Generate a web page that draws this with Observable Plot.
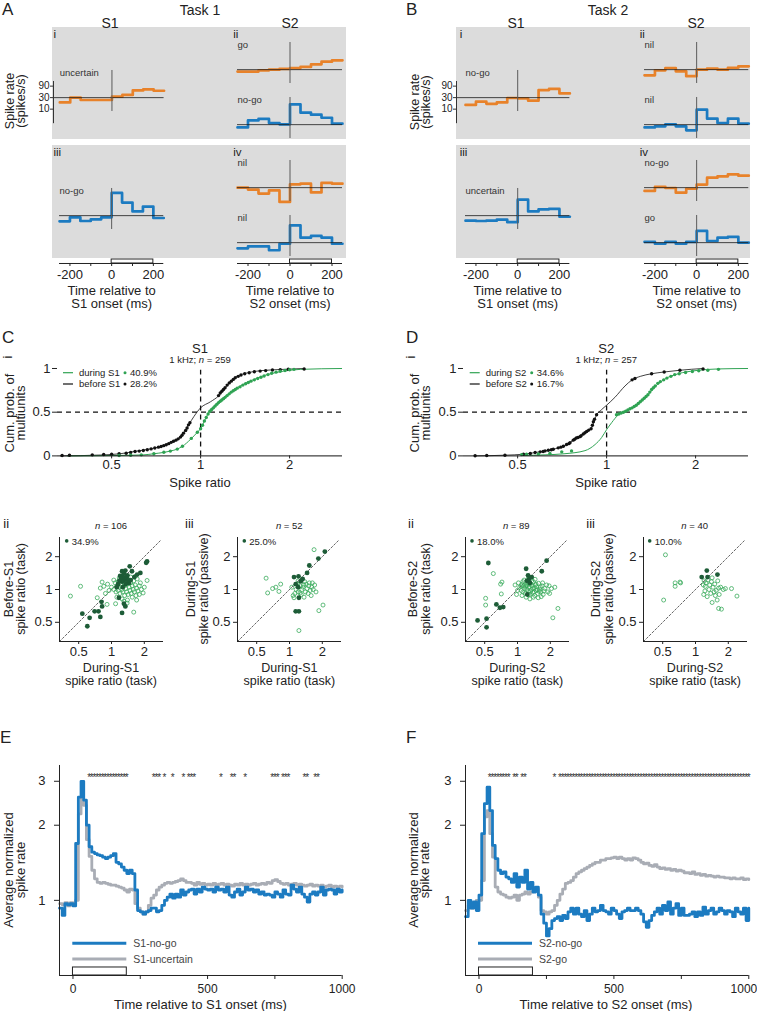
<!DOCTYPE html>
<html><head><meta charset="utf-8">
<script src="https://cdn.jsdelivr.net/npm/d3@7"></script>
<script src="https://cdn.jsdelivr.net/npm/@observablehq/plot@0.6"></script>
<style>
body{margin:0;background:#fff;}
#root{position:relative;width:757px;height:1011px;overflow:hidden;background:#fff;}
</style></head><body><div id="root"></div><script>
// ---------------- DATA ----------------
// Panels A/B: spike-rate step traces, 50 ms bins (spikes/s)
const binEdges = [-250,-200,-150,-100,-50,0,50,100,150,200,250];
const baselineRate = 30;
const rateTicks = [10,30,90];
const traceTicks = [-200,-100,0,100,200];
const stimulusWindow = [[0,200]];
const a_i_uncertain   = [19, 30, 24, 24, 24, 33, 39, 60, 66, 58];
const a_ii_go         = [25, 25, 28, 30, 32, 35, 39, 50, 64, 73];
const a_ii_nogo       = [23, 45, 52, 35, 31, 209, 94, 78, 58, 33];
const a_iii_nogo      = [17.5, 25.5, 18, 21, 25.5, 262, 104, 45, 71, 24];
const a_iv_nil_top    = [30, 25, 17, 23, 7.7, 41, 44, 19, 47, 44];
const a_iv_nil_bottom = [17.5, 21, 21, 14.5, 27, 156, 48, 57, 48, 27];
const b_i_nogo        = [15, 20.5, 16.6, 19, 29, 28, 22.5, 62, 69, 45];
const b_ii_nil_top    = [17.5, 28, 35, 25.5, 16, 30, 33, 30, 36, 41];
const b_ii_nil_bottom = [23, 25.5, 31, 25.5, 17.5, 125, 53, 35, 53, 33];
const b_iii_uncertain = [18.6, 18, 18.6, 20.5, 16, 138, 45, 55, 57, 27];
const b_iv_nogo       = [22, 32, 29, 18.6, 27, 40, 78, 88, 107, 94];
const b_iv_go         = [32, 27, 32, 27, 32, 92, 35, 48, 52, 30];

// Panels C/D i: cumulative distributions [spike ratio, cum. prob.]
const cDuringLine = [[0.354,0],[0.523,0.005],[0.643,0.012],[0.695,0.025],[0.751,0.04],[0.79,0.055],[0.834,0.078],[0.868,0.11],[0.925,0.19],[0.975,0.27],[1.0,0.31],[1.03,0.40],[1.067,0.50],[1.10,0.56],[1.15,0.62],[1.23,0.70],[1.33,0.78],[1.48,0.86],[1.68,0.93],[1.91,0.97],[2.18,0.99],[3.0,1.0]];
const cBeforeLine = [[0.336,0],[0.459,0.01],[0.536,0.025],[0.595,0.05],[0.677,0.08],[0.751,0.12],[0.812,0.17],[0.867,0.24],[0.913,0.36],[0.949,0.45],[1.0,0.55],[1.081,0.62],[1.153,0.69],[1.199,0.76],[1.263,0.85],[1.331,0.91],[1.439,0.95],[1.596,0.975],[1.914,0.99],[2.237,1.0]];
const cBeforeDots = [[0.34,0.004],[0.36,0.008],[0.43,0.012],[0.47,0.016],[0.50,0.02],[0.53,0.025],[0.56,0.03],[0.58,0.04],[0.60,0.05],[0.62,0.055],[0.64,0.062],[0.66,0.07],[0.68,0.08],[0.70,0.09],[0.72,0.10],[0.735,0.108],[0.75,0.117],[0.765,0.128],[0.78,0.14],[0.795,0.155],[0.81,0.168],[0.825,0.18],[0.84,0.195],[0.855,0.215],[0.865,0.235],[0.875,0.26],[0.89,0.29],[0.90,0.32],[0.91,0.355],[0.92,0.38],[1.15,0.69],[1.165,0.72],[1.18,0.74],[1.195,0.76],[1.21,0.78],[1.23,0.81],[1.25,0.835],[1.27,0.855],[1.29,0.875],[1.31,0.895],[1.34,0.91],[1.37,0.925],[1.41,0.94],[1.46,0.952],[1.52,0.962],[1.59,0.97],[1.66,0.976],[1.75,0.982],[1.86,0.987],[1.98,0.991],[2.24,0.995]];
const cDuringDots = [[0.53,0.005],[0.58,0.008],[0.63,0.012],[0.695,0.025],[0.751,0.042],[0.79,0.055],[0.834,0.078],[0.868,0.11],[0.93,0.20],[0.975,0.27],[1.0,0.31],[1.015,0.35],[1.03,0.40],[1.045,0.44],[1.06,0.48],[1.075,0.51],[1.09,0.53],[1.105,0.55],[1.12,0.57],[1.135,0.59],[1.15,0.61],[1.165,0.625],[1.18,0.64],[1.195,0.655],[1.21,0.67],[1.23,0.69],[1.25,0.71],[1.27,0.73],[1.29,0.745],[1.31,0.76],[1.33,0.775],[1.36,0.79],[1.39,0.81],[1.42,0.825],[1.45,0.84],[1.48,0.855],[1.52,0.87],[1.56,0.885],[1.60,0.90],[1.64,0.915],[1.69,0.93],[1.74,0.945],[1.80,0.958],[1.86,0.968],[1.93,0.977],[2.0,0.985],[2.07,0.99]];
const dDuringLine = [[0.516,0.005],[0.619,0.012],[0.723,0.025],[0.845,0.06],[0.914,0.13],[0.962,0.21],[1.0,0.30],[1.04,0.38],[1.095,0.47],[1.168,0.52],[1.247,0.57],[1.348,0.66],[1.458,0.79],[1.576,0.88],[1.747,0.94],[1.991,0.975],[2.387,0.995],[3.0,1.0]];
const dBeforeLine = [[0.359,0],[0.453,0.008],[0.523,0.019],[0.573,0.038],[0.619,0.057],[0.66,0.076],[0.714,0.11],[0.752,0.15],[0.79,0.206],[0.834,0.25],[0.886,0.31],[0.925,0.47],[0.962,0.53],[1.0,0.58],[1.067,0.67],[1.154,0.80],[1.22,0.87],[1.30,0.91],[1.42,0.94],[1.566,0.96],[1.77,0.98],[2.12,1.0]];
const dBeforeDots = [[0.359,0.002],[0.393,0.004],[0.453,0.008],[0.523,0.019],[0.552,0.027],[0.573,0.038],[0.596,0.046],[0.61,0.05],[0.619,0.057],[0.635,0.065],[0.65,0.07],[0.66,0.076],[0.686,0.092],[0.70,0.10],[0.714,0.11],[0.732,0.13],[0.745,0.14],[0.752,0.15],[0.771,0.18],[0.78,0.19],[0.79,0.206],[0.80,0.21],[0.813,0.22],[0.82,0.23],[0.834,0.25],[0.845,0.265],[0.856,0.28],[0.87,0.295],[0.886,0.31],[0.895,0.35],[0.902,0.39],[0.91,0.42],[0.925,0.47],[1.22,0.87],[1.247,0.885],[1.42,0.94],[1.566,0.96],[1.77,0.98],[2.12,0.995]];
const dDuringDots = [[0.516,0.015],[0.536,0.019],[0.588,0.023],[0.643,0.027],[0.705,0.046],[0.761,0.057],[1.08,0.47],[1.10,0.48],[1.12,0.49],[1.14,0.50],[1.16,0.51],[1.18,0.525],[1.20,0.54],[1.22,0.55],[1.24,0.565],[1.26,0.58],[1.28,0.60],[1.30,0.62],[1.32,0.64],[1.34,0.66],[1.36,0.68],[1.38,0.70],[1.40,0.73],[1.42,0.76],[1.44,0.78],[1.46,0.80],[1.49,0.83],[1.52,0.85],[1.56,0.87],[1.60,0.89],[1.65,0.91],[1.70,0.93],[1.76,0.94],[1.85,0.955],[1.95,0.965],[2.05,0.975],[2.2,0.98],[2.39,0.99]];

// Panels C/D ii, iii: scatter [x ratio, y ratio]
const cii_sig = [[2.12,1.81],[2.08,1.76],[1.47,1.63],[1.34,1.49],[1.25,1.47],[1.54,1.47],[1.72,1.37],[1.84,1.42],[1.20,1.33],[1.28,1.30],[1.22,1.25],[1.31,1.22],[1.25,1.18],[1.38,1.28],[1.45,1.15],[1.15,1.12],[1.62,1.30],[0.54,0.60],[0.60,0.46],[0.63,0.55],[0.70,0.63],[0.76,0.63],[0.79,0.56],[0.81,0.77],[0.82,0.70],[1.25,0.61],[1.30,0.74],[1.34,0.70],[1.17,0.84],[1.30,1.40],[1.18,1.20],[1.40,1.35],[1.35,1.12],[1.27,1.05],[1.50,1.22],[1.12,1.05],[1.42,1.20]];
const cii_ns = [[1.05,1.0],[1.10,0.95],[1.12,1.08],[1.15,0.98],[1.18,1.05],[1.20,0.92],[1.22,1.10],[1.25,1.00],[1.27,0.95],[1.30,1.08],[1.32,0.88],[1.35,1.02],[1.38,0.95],[1.40,1.12],[1.42,0.90],[1.45,1.05],[1.48,0.98],[1.50,1.15],[1.52,0.92],[1.55,1.08],[1.58,1.00],[1.62,0.95],[1.65,1.10],[1.68,0.88],[1.70,1.03],[1.75,0.97],[1.80,1.08],[1.88,1.00],[1.95,0.93],[1.15,1.18],[1.28,1.20],[1.36,1.25],[1.45,1.22],[1.60,1.20],[1.72,1.25],[1.08,1.15],[1.00,1.05],[0.95,0.98],[1.12,0.85],[1.25,0.82],[1.40,0.80],[1.55,0.85],[1.70,0.80],[1.30,0.78],[0.88,0.92],[1.80,0.90],[2.0,1.05],[1.18,1.28],[1.05,1.22],[0.92,1.12],[1.50,1.30],[1.65,1.32],[0.42,0.87],[0.52,1.07],[0.74,0.84],[0.91,0.73],[1.09,0.74],[1.39,0.75],[1.60,0.62],[0.82,1.17],[0.85,1.07],[2.12,1.21],[1.84,1.15],[0.79,1.03]];
const ciii_sig = [[2.11,2.23],[1.84,1.92],[1.52,1.66],[1.45,1.42],[1.21,1.32],[1.27,1.19],[1.14,1.12],[1.32,1.25],[1.20,1.05],[1.14,0.63],[1.22,0.63],[1.22,0.84],[1.10,1.30]];
const ciii_ns = [[1.68,2.32],[0.61,1.27],[0.83,1.12],[0.75,1.05],[0.63,0.93],[0.70,1.02],[0.80,0.96],[1.10,0.84],[1.22,0.42],[1.86,0.64],[2.03,0.72],[1.15,1.00],[1.20,0.95],[1.25,1.08],[1.30,1.00],[1.35,1.10],[1.40,0.95],[1.45,1.02],[1.50,1.08],[1.55,0.98],[1.60,1.05],[1.28,0.90],[1.38,1.18],[1.18,1.12],[1.48,0.92],[1.65,1.00],[1.33,1.05],[1.42,1.12],[1.12,0.92],[1.25,0.93],[1.58,0.88],[1.70,1.10],[1.05,1.05],[1.52,1.15],[1.75,0.95],[1.36,0.85],[1.20,1.20],[1.62,1.15],[1.08,0.88]];
const dii_sig = [[0.54,1.75],[1.20,1.55],[1.67,1.47],[1.85,1.84],[1.23,0.90],[0.43,0.52],[0.52,0.54],[0.52,0.45],[0.64,0.73],[0.69,0.68],[0.74,0.69],[1.25,1.35],[1.28,1.25],[1.22,1.20],[1.30,1.15],[1.35,1.30]];
const dii_ns = [[0.60,1.40],[0.72,1.17],[0.51,0.83],[0.51,0.72],[0.71,0.91],[0.70,1.12],[1.97,0.92],[2.35,0.67],[2.11,0.55],[1.05,1.05],[1.08,0.98],[1.10,1.12],[1.12,0.95],[1.14,1.08],[1.16,1.02],[1.18,0.92],[1.20,1.10],[1.22,1.00],[1.24,1.15],[1.26,0.96],[1.28,1.05],[1.30,0.90],[1.32,1.12],[1.34,1.00],[1.36,1.08],[1.38,0.94],[1.40,1.18],[1.42,1.03],[1.44,0.88],[1.46,1.10],[1.48,0.98],[1.50,1.06],[1.53,0.92],[1.56,1.14],[1.60,1.00],[1.64,0.95],[1.68,1.08],[1.72,0.90],[1.78,1.02],[1.85,1.10],[1.95,1.08],[2.05,1.02],[1.15,1.22],[1.25,1.25],[1.35,1.20],[1.45,1.24],[1.10,0.88],[1.20,0.85],[1.30,0.82],[1.40,0.85],[1.55,0.84],[1.65,0.86],[1.00,0.98],[0.95,1.10],[1.02,1.15],[1.12,1.18],[1.22,1.08],[1.32,0.97],[1.42,0.95],[1.52,1.00],[1.62,1.05],[1.75,0.97],[1.90,0.95],[1.18,1.05],[1.28,1.12],[1.38,1.02],[1.48,1.12],[1.58,0.96],[1.08,1.08],[2.2,1.05],[1.70,1.15],[0.98,0.90],[1.26,0.90]];
const diii_sig = [[1.27,1.49],[1.14,1.30],[1.29,1.30],[1.59,1.37]];
const diii_ns = [[0.53,2.08],[0.65,1.15],[0.72,1.17],[0.51,0.80],[0.65,1.07],[0.73,1.15],[1.19,0.90],[1.28,0.86],[1.42,0.76],[1.63,0.67],[1.73,0.66],[2.40,0.87],[1.88,1.02],[2.14,1.02],[1.63,1.03],[1.23,1.07],[1.20,1.20],[1.25,1.15],[1.30,1.22],[1.35,1.10],[1.40,1.18],[1.45,1.05],[1.50,1.12],[1.55,0.98],[1.33,1.00],[1.38,0.92],[1.48,0.95],[1.60,1.20],[1.70,1.05],[1.52,0.88],[1.42,1.28],[1.22,0.97],[1.58,0.80],[1.80,1.00],[1.18,1.10],[1.65,0.90]];
const scatterDomain = [1/3, 3];
const identityLine = [0.335, 2.8];
const scatterTicks = [0.5, 1, 2];

// Panels E/F: average normalized spike rate, 10 ms bins from -50 to 1000 ms
const timeBins = d3.range(-50, 1001, 10);
const e_nogo = [0.93,0.87,0.97,0.96,0.97,0.95,1.69,2.59,3.0,2.52, 2.0,1.64,1.56,1.54,1.52,1.51,1.49,1.47,1.49,1.51, 1.54,1.42,1.40,1.36,1.32,1.28,1.32,1.28,1.10,0.91, 0.90,0.88,0.90,0.91,0.93,0.93,0.90,0.91,0.955,1.0, 1.03,1.06,1.02,1.06,1.03,1.10,1.05,1.08,1.10,1.11, 1.06,1.11,1.08,1.13,1.11,1.10,1.11,1.08,1.13,1.10, 1.11,1.08,1.13,1.05,1.03,1.08,1.11,1.05,1.08,1.13, 1.10,1.11,1.08,1.10,1.06,1.08,1.05,1.06,1.05,1.03, 1.08,1.06,1.03,1.10,1.06,1.05,1.15,1.11,1.08,1.13, 1.06,1.03,0.985,1.06,1.08,1.05,1.08,1.13,1.05,1.10, 1.11,1.10,1.06,1.11,1.08,1.10];
const e_uncertain = [0.97,0.96,0.98,0.95,0.98,0.96,1.00,2.22,2.55,2.40, 1.75,1.50,1.32,1.22,1.18,1.17,1.18,1.17,1.16,1.15, 1.15,1.14,1.13,1.12,1.10,1.08,1.11,1.10,0.97,0.93, 0.90,0.88,0.90,0.955,1.02,1.05,1.10,1.13,1.15,1.17, 1.18,1.17,1.18,1.19,1.20,1.22,1.20,1.18,1.18,1.17, 1.15,1.18,1.16,1.17,1.15,1.16,1.15,1.17,1.15,1.16, 1.17,1.15,1.16,1.15,1.14,1.16,1.15,1.17,1.15,1.16, 1.15,1.16,1.17,1.15,1.16,1.17,1.16,1.18,1.17,1.20, 1.21,1.19,1.17,1.16,1.17,1.15,1.16,1.17,1.15,1.16, 1.15,1.14,1.15,1.16,1.14,1.15,1.14,1.15,1.13,1.14, 1.15,1.13,1.14,1.13,1.14,1.13];
const f_nogo = [0.86,1.0,0.93,0.985,0.91,1.05,1.85,2.44,2.84,2.29, 1.66,1.47,1.32,1.28,1.30,1.24,1.22,1.18,1.28,1.13, 1.24,1.18,1.32,1.11,1.18,1.08,1.13,1.05,0.88,0.81, 0.72,0.77,0.83,0.845,0.86,0.83,0.87,0.845,0.90,0.93, 0.88,0.93,0.88,0.86,0.91,0.83,0.88,0.93,0.90,0.91, 0.955,0.91,0.90,0.88,0.93,0.91,0.88,0.845,0.90,0.91, 0.93,0.91,0.91,0.93,0.91,0.88,0.82,0.78,0.83,0.87, 0.90,0.93,0.88,0.955,0.91,0.985,0.88,0.93,0.97,0.87, 0.93,0.87,0.87,0.88,0.90,0.86,0.90,0.87,0.94,0.88, 0.91,0.93,0.88,0.90,0.93,0.91,0.88,0.91,0.90,0.86, 0.93,0.90,0.88,0.93,0.83,0.93];
const f_go = [0.91,0.955,0.93,0.97,1.0,1.0,1.20,2.16,2.29,1.85, 1.49,1.13,1.08,1.06,1.05,1.03,1.02,1.03,1.05,1.0, 1.05,1.06,1.08,1.06,1.08,1.10,1.11,1.03,0.91,0.90, 0.88,0.90,0.91,0.955,1.0,1.06,1.11,1.17,1.18,1.20, 1.24,1.28,1.30,1.32,1.34,1.36,1.38,1.40,1.42,1.42, 1.45,1.45,1.47,1.47,1.48,1.49,1.47,1.49,1.47,1.45, 1.47,1.45,1.48,1.47,1.45,1.42,1.40,1.41,1.38,1.37, 1.39,1.36,1.34,1.35,1.33,1.34,1.32,1.33,1.31,1.32, 1.31,1.29,1.29,1.28,1.30,1.27,1.28,1.26,1.27,1.25, 1.26,1.25,1.24,1.25,1.24,1.24,1.23,1.23,1.22,1.23, 1.22,1.22,1.23,1.21,1.22,1.21];
const e_stars = [60,70,80,90,100,110,120,130,140,150,160,170,180,190,200,300,310,320,340,370,410,430,440,450,550,590,600,640,740,750,760,780,790,800,860,870,900,910];
const f_stars = [40,50,60,70,80,90,100,110,130,140,160,170,280].concat(d3.range(300,1001,10));
const normTicks = [1,2,3];
const timeTicks = [0,250,500,750,1000];

// ---------------- STYLE / LAYOUT ----------------
const FONT = '"Liberation Sans", Arial, Helvetica, sans-serif';
const ORANGE = "#e8822a", BLUE = "#1c7bc1", GRAYLINE = "#a9adb5";
const GREEN = "#2fa353", DKGREEN = "#1d5c37", LTGREEN = "#3aab5c";
const xDomainTrace = [-250, 250];
const rateDomain = [8, 400];
const rateAxisSpan = [2.5, 140];
const root = document.getElementById("root");

function put(node, left, top) {
  node.style.position = "absolute";
  node.style.left = left + "px";
  node.style.top = top + "px";
  root.appendChild(node);
  return node;
}
function framed(frame, margins, opts) {
  const [x0, x1, y0, y1] = frame;
  const m = Object.assign({top: 0, right: 0, bottom: 0, left: 0}, margins);
  const svg = Plot.plot(Object.assign({
    width: (x1 - x0) + m.left + m.right,
    height: (y1 - y0) + m.top + m.bottom,
    marginTop: m.top, marginRight: m.right, marginBottom: m.bottom, marginLeft: m.left,
    style: {background: "transparent", fontFamily: FONT, fontSize: "13px", color: "#222", overflow: "visible"}
  }, opts));
  put(svg, x0 - m.left, y0 - m.top);
  return svg;
}

// gray panels
[[52, 27, 294, 112], [52, 145, 294, 113], [455.7, 27, 294, 112], [455.7, 145, 294, 113]].forEach(([x, y, w, h]) => {
  const d = document.createElement("div");
  d.style.width = w + "px"; d.style.height = h + "px"; d.style.background = "#dcdcdc";
  put(d, x, y);
});

// ---------- Panels A & B traces ----------
const cols = {AS1: [59, 163.3, 52.7], AS2: [237.3, 342.3], BS1: [465.3, 569.7, 456.3], BS2: [643.7, 748]};
const traceSpecs = [
  {rates: a_i_uncertain, color: ORANGE, label: "uncertain", col: "AS1", top: 70, axis: true},
  {rates: a_ii_go, color: ORANGE, label: "go", col: "AS2", top: 42},
  {rates: a_ii_nogo, color: BLUE, label: "no-go", col: "AS2", top: 97},
  {rates: a_iii_nogo, color: BLUE, label: "no-go", col: "AS1", top: 188},
  {rates: a_iv_nil_top, color: ORANGE, label: "nil", col: "AS2", top: 160},
  {rates: a_iv_nil_bottom, color: BLUE, label: "nil", col: "AS2", top: 215},
  {rates: b_i_nogo, color: ORANGE, label: "no-go", col: "BS1", top: 70, axis: true},
  {rates: b_ii_nil_top, color: ORANGE, label: "nil", col: "BS2", top: 42},
  {rates: b_ii_nil_bottom, color: BLUE, label: "nil", col: "BS2", top: 97},
  {rates: b_iii_uncertain, color: BLUE, label: "uncertain", col: "BS1", top: 188},
  {rates: b_iv_nogo, color: ORANGE, label: "no-go", col: "BS2", top: 160},
  {rates: b_iv_go, color: BLUE, label: "go", col: "BS2", top: 215}
];
traceSpecs.forEach(s => {
  const [x0, x1, ax] = cols[s.col];
  const inset = s.axis ? x0 - ax : 0;
  const frameW = x1 - (x0 - inset);
  const data = binEdges.map((t, i) => ({t, rate: s.rates[Math.min(i, s.rates.length - 1)]}));
  const marks = [
    Plot.line(data, {x: "t", y: "rate", curve: "step-after", stroke: s.color, strokeWidth: 2.7}),
    Plot.ruleY([baselineRate], {stroke: "#1a1a1a", strokeWidth: 0.8}),
    Plot.ruleX([0], {stroke: "#5a5a5a", strokeWidth: 1}),
    Plot.text([s.label], {text: d => d, frameAnchor: "top-left", dx: inset, dy: 5.5, lineAnchor: "bottom", textAnchor: "start", fontSize: 9.5, fill: "#333"})
  ];
  if (s.axis) {
    marks.push(
      Plot.ruleX([xDomainTrace[0]], {y1: rateAxisSpan[0], y2: rateAxisSpan[1], dx: -inset, stroke: "#333", strokeWidth: 1}),
      Plot.tickY(rateTicks, {y: d => d, insetRight: frameW - 3, dx: -3, stroke: "#333", strokeWidth: 1}),
      Plot.text(rateTicks, {y: d => d, text: d => String(d), frameAnchor: "left", dx: -4, textAnchor: "end", lineAnchor: "middle", fontSize: 10, fill: "#222"})
    );
  }
  framed([x0 - inset, x1, s.top, s.top + 41], {left: s.axis ? 30 : 2, right: 2, top: 2, bottom: s.axis ? 16 : 2}, {
    x: {domain: xDomainTrace, insetLeft: inset, axis: null},
    y: {type: "log", domain: rateDomain, axis: null},
    marks
  });
});
[["AS1", "Time relative to\nS1 onset (ms)"], ["AS2", "Time relative to\nS2 onset (ms)"],
 ["BS1", "Time relative to\nS1 onset (ms)"], ["BS2", "Time relative to\nS2 onset (ms)"]].forEach(([col, label]) => {
  const [x0, x1] = cols[col];
  framed([x0, x1, 255, 263], {left: 30, right: 30, top: 0, bottom: 55}, {
    x: {domain: xDomainTrace},
    y: {domain: [0, 1], axis: null},
    marks: [
      Plot.rect(stimulusWindow, {x1: d => d[0], x2: d => d[1], y1: 0, y2: 0.5, fill: "none", stroke: "#222", strokeWidth: 1}),
      Plot.ruleY([0], {stroke: "#222", strokeWidth: 1}),
      Plot.axisX({ticks: traceTicks, tickFormat: d => (d % 200 === 0 ? String(d) : ""), tickSize: 3, tickPadding: 3, fontSize: 13, label: null}),
      Plot.text([label], {text: d => d, frameAnchor: "bottom", dy: 22, lineAnchor: "top", fontSize: 13, fill: "#222"})
    ]
  });
});

// ---------- Panels C/D i: cumulative ----------
function cumPlot(frame, beforeLine, duringLine, beforeDots, duringDots) {
  framed(frame, {left: 57, right: 10, top: 5, bottom: 40}, {
    x: {type: "log", domain: [0.328, 3.02]},
    y: {domain: [0, 1]},
    marks: [
      Plot.ruleY([0.5], {stroke: "#111", strokeWidth: 1.3, strokeDasharray: "5,4"}),
      Plot.ruleX([1], {y1: 0, y2: 0.98, stroke: "#111", strokeWidth: 1.3, strokeDasharray: "5,4"}),
      Plot.line(beforeLine, {x: d => d[0], y: d => d[1], stroke: "#111", strokeWidth: 0.8, curve: "monotone-x"}),
      Plot.line(duringLine, {x: d => d[0], y: d => d[1], stroke: GREEN, strokeWidth: 1, curve: "monotone-x"}),
      Plot.dot(beforeDots, {x: d => d[0], y: d => d[1], r: 1.7, fill: "#111", stroke: "none"}),
      Plot.dot(duringDots, {x: d => d[0], y: d => d[1], r: 1.7, fill: GREEN, stroke: "none"}),
      Plot.ruleY([0], {stroke: "#111", strokeWidth: 1}),
      Plot.axisX({ticks: scatterTicks, tickFormat: d => String(d), tickSize: 3, tickPadding: 1, fontSize: 13, label: null}),
      Plot.axisY({ticks: [0, 0.5, 1], tickFormat: d => String(d), tickSize: 5, tickPadding: 2, fontSize: 13, label: null}),
      Plot.text(["Spike ratio"], {text: d => d, frameAnchor: "bottom", dy: 31, lineAnchor: "bottom", fontSize: 13, fill: "#222"})
    ]
  });
}
cumPlot([56.7, 341.7, 368.3, 455.7], cBeforeLine, cDuringLine, cBeforeDots, cDuringDots);
cumPlot([463, 748, 368.3, 455.7], dBeforeLine, dDuringLine, dBeforeDots, dDuringDots);

// ---------- scatter panels ----------
function scatter(frame, sig, ns) {
  framed(frame, {left: 30, right: 5, top: 5, bottom: 20}, {
    x: {type: "log", domain: scatterDomain},
    y: {type: "log", domain: scatterDomain},
    marks: [
      Plot.line(identityLine, {x: d => d, y: d => d, stroke: "#222", strokeWidth: 0.7, strokeDasharray: "2,2"}),
      Plot.dot(ns, {x: d => d[0], y: d => d[1], r: 2, stroke: LTGREEN, strokeWidth: 0.8, fill: "none"}),
      Plot.dot(sig, {x: d => d[0], y: d => d[1], r: 2.4, fill: DKGREEN, stroke: "none"}),
      Plot.ruleX([scatterDomain[0]], {stroke: "#222", strokeWidth: 1}),
      Plot.ruleY([scatterDomain[0]], {stroke: "#222", strokeWidth: 1}),
      Plot.axisX({ticks: scatterTicks, tickFormat: d => String(d), tickSize: 3, tickPadding: 2, fontSize: 13, label: null}),
      Plot.axisY({ticks: scatterTicks, tickFormat: d => String(d), tickSize: 4, tickPadding: 3, fontSize: 13, label: null})
    ]
  });
}
scatter([59, 163, 537, 641], cii_sig, cii_ns);
scatter([236.7, 340.7, 537, 641], ciii_sig, ciii_ns);
scatter([465.3, 569.3, 537, 641], dii_sig, dii_ns);
scatter([643, 747, 537, 641], diii_sig, diii_ns);

// ---------- Panels E/F ----------
function timecourse(frame, blueVals, grayVals, stars, endAnchorLast) {
  const blue = timeBins.map((t, i) => ({t, v: blueVals[i]}));
  const gray = timeBins.map((t, i) => ({t, v: grayVals[i]}));
  const lastTick = timeTicks[timeTicks.length - 1];
  const marks = [
    Plot.line(gray, {x: "t", y: "v", curve: "step-after", stroke: GRAYLINE, strokeWidth: 2.8}),
    Plot.line(blue, {x: "t", y: "v", curve: "step-after", stroke: BLUE, strokeWidth: 2.8}),
    Plot.text(stars, {x: d => d, text: () => "*", frameAnchor: "top", dy: 8, fontSize: 10, fill: "#333"}),
    Plot.rect(stimulusWindow, {x1: d => d[0], x2: d => d[1], insetTop: 202, fill: "none", stroke: "#222", strokeWidth: 1}),
    Plot.ruleX([-50], {stroke: "#222", strokeWidth: 1}),
    Plot.ruleY([0.5], {stroke: "#222", strokeWidth: 1}),
    Plot.axisX({ticks: timeTicks, tickFormat: d => (d % 500 === 0 && !(endAnchorLast && d === lastTick) ? String(d) : ""), tickSize: 4, tickPadding: 5, fontSize: 12, label: null}),
    Plot.axisY({ticks: normTicks, tickFormat: d => String(d), tickSize: 5, tickPadding: 9, fontSize: 13, label: null})
  ];
  if (endAnchorLast) marks.push(
    Plot.text([lastTick], {x: d => d, text: d => String(d), frameAnchor: "bottom", dy: 9, dx: 8.5, lineAnchor: "top", textAnchor: "end", fontSize: 12, fill: "#222"})
  );
  framed(frame, {left: 30, right: 15, top: 5, bottom: 25}, {
    x: {domain: [-50, 1000]},
    y: {type: "log", domain: [0.5, 3.47]},
    marks
  });
}
timecourse([59, 341.7, 765, 975], e_nogo, e_uncertain, e_stars, false);
timecourse([464.7, 748, 765, 975], f_nogo, f_go, f_stars, true);

// ---------- text overlay ----------
const ov = d3.create("svg").attr("width", 757).attr("height", 1011)
  .attr("font-family", FONT).style("position", "absolute").style("left", "0px").style("top", "0px");
function T(str, x, y, o = {}) {
  const t = ov.append("text").attr("font-size", o.size || 13).attr("text-anchor", o.anchor || "start").attr("fill", o.fill || "#222");
  if (o.rotate) t.attr("transform", `translate(${x},${y}) rotate(-90)`); else t.attr("x", x).attr("y", y);
  (Array.isArray(str) ? str : [str]).forEach(p => {
    if (typeof p === "string") t.append("tspan").text(p);
    else t.append("tspan").attr("font-style", "italic").text(p.i);
  });
}
// panel letters
[["A", 2, 15], ["B", 406, 15], ["C", 2, 343], ["D", 406, 343], ["E", 0, 743], ["F", 406, 743]].forEach(([s, x, y]) => T(s, x, y, {size: 17}));
T("Task 1", 200, 15, {size: 14, anchor: "middle"});
T("Task 2", 608, 15, {size: 14, anchor: "middle"});
[["S1", 110], ["S2", 290], ["S1", 516], ["S2", 696]].forEach(([s, x]) => T(s, x, 27.7, {size: 14, anchor: "middle"}));
[["i", 53.5, 37.5], ["ii", 233.3, 37.5], ["iii", 53.5, 155.5], ["iv", 233.3, 155.5],
 ["i", 459.7, 37.5], ["ii", 639.7, 37.5], ["iii", 459.7, 155.5], ["iv", 639.7, 155.5]].forEach(([s, x, y]) => T(s, x, y, {size: 11.5}));
T("Spike rate", 14, 101, {size: 12.5, anchor: "middle", rotate: true});
T("(spikes/s)", 24.5, 101, {size: 12.5, anchor: "middle", rotate: true});
T("Spike rate", 419, 102, {size: 12.5, anchor: "middle", rotate: true});
T("(spikes/s)", 429.5, 102, {size: 12.5, anchor: "middle", rotate: true});
// C / D i
T("i", 12, 357, {size: 13, anchor: "middle", rotate: true});
T("i", 415, 357, {size: 13, anchor: "middle", rotate: true});
T("S1", 200, 352.7, {size: 13, anchor: "middle"});
T("S2", 606.3, 352.7, {size: 13, anchor: "middle"});
T(["1 kHz; ", {i: "n"}, " = 259"], 200, 362.7, {size: 9.5, anchor: "middle"});
T(["1 kHz; ", {i: "n"}, " = 257"], 606.3, 362.7, {size: 9.5, anchor: "middle"});
T("Cum. prob. of", 14, 413, {size: 13, anchor: "middle", rotate: true});
T("multiunits", 24.5, 413, {size: 13, anchor: "middle", rotate: true});
T("Cum. prob. of", 419, 413, {size: 13, anchor: "middle", rotate: true});
T("multiunits", 429.5, 413, {size: 13, anchor: "middle", rotate: true});
function cumLegend(x, labels, pcts) {
  [[GREEN, 376], ["#111", 387.3]].forEach(([c, y], i) => {
    ov.append("line").attr("x1", x).attr("x2", x + 10).attr("y1", y - 3.3).attr("y2", y - 3.3).attr("stroke", c).attr("stroke-width", 1.2);
    T(labels[i], x + 16, y, {size: 9.5});
    ov.append("circle").attr("cx", x + 62).attr("cy", y - 3.3).attr("r", 1.5).attr("fill", c);
    T(pcts[i], x + 67, y, {size: 9.5});
  });
}
cumLegend(63, ["during S1", "before S1"], ["40.9%", "28.2%"]);
cumLegend(469.7, ["during S2", "before S2"], ["34.6%", "16.7%"]);
// scatter texts
[["ii", 3.3, 111, 66.7, "106", "34.9%"], ["iii", 185, 289.3, 244.3, "52", "25.0%"],
 ["ii", 408, 516.3, 472, "89", "18.0%"], ["iii", 586.3, 694.7, 649.7, "40", "10.0%"]].forEach(([lab, lx, nx, dx, n, pct]) => {
  T(lab, lx, 528.3, {size: 13});
  T([{i: "n"}, " = " + n], nx, 529.3, {size: 9.5, anchor: "middle"});
  ov.append("circle").attr("cx", dx).attr("cy", 540.9).attr("r", 1.8).attr("fill", DKGREEN);
  T(pct, dx + 5, 544.5, {size: 9.5});
});
[[111, "During-S1"], [289.3, "During-S1"], [517.3, "During-S2"], [695, "During-S2"]].forEach(([x, s]) => {
  T(s, x, 671.5, {size: 12.5, anchor: "middle"});
  T("spike ratio (task)", x, 684.5, {size: 12.5, anchor: "middle"});
});
[[12.5, "Before-S1", "spike ratio (task)"], [195, "During-S1", "spike ratio (passive)"],
 [417, "Before-S2", "spike ratio (task)"], [600, "During-S2", "spike ratio (passive)"]].forEach(([x, a, b]) => {
  T(a, x, 589, {size: 12.5, anchor: "middle", rotate: true});
  T(b, x + 12.5, 589, {size: 12.5, anchor: "middle", rotate: true});
});
// E / F
T("Average normalized", 13.3, 870, {size: 13, anchor: "middle", rotate: true});
T("spike rate", 24.5, 870, {size: 13, anchor: "middle", rotate: true});
T("Average normalized", 418, 870, {size: 13, anchor: "middle", rotate: true});
T("spike rate", 429, 870, {size: 13, anchor: "middle", rotate: true});
T("Time relative to S1 onset (ms)", 200.5, 1008.5, {size: 13, anchor: "middle"});
T("Time relative to S2 onset (ms)", 606, 1008.5, {size: 13, anchor: "middle"});
function tcLegend(x0, names) {
  [[BLUE, 943.3], [GRAYLINE, 959]].forEach(([c, y], i) => {
    ov.append("line").attr("x1", x0).attr("x2", x0 + 54).attr("y1", y).attr("y2", y).attr("stroke", c).attr("stroke-width", 3);
    T(names[i], x0 + 61, y + 3.5, {size: 10.5, fill: "#444"});
  });
}
tcLegend(72.3, ["S1-no-go", "S1-uncertain"]);
tcLegend(478, ["S2-no-go", "S2-go"]);
root.appendChild(ov.node());
</script></body></html>
